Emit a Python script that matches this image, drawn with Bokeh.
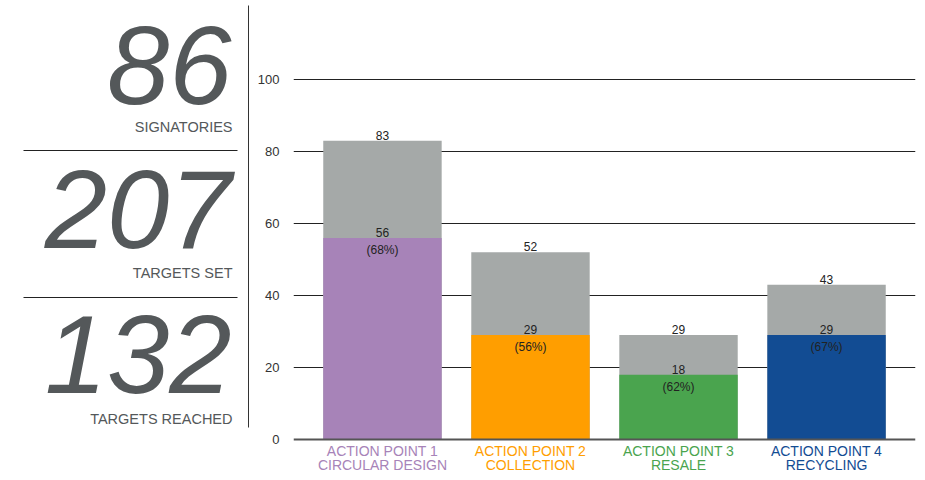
from bokeh.plotting import figure
from bokeh.layouts import row
from bokeh.models import Range1d, FixedTicker, Span
from bokeh.core.properties import value
from bokeh.embed import file_html
from bokeh.resources import INLINE

# ---- data ----
summary_values = ["86", "207", "132"]
summary_labels = ["SIGNATORIES", "TARGETS SET", "TARGETS REACHED"]

cat_line1 = ["ACTION POINT 1", "ACTION POINT 2", "ACTION POINT 3", "ACTION POINT 4"]
cat_line2 = ["CIRCULAR DESIGN", "COLLECTION", "RESALE", "RECYCLING"]
targets_set = [83, 52, 29, 43]
targets_reached = [56, 29, 18, 29]
reached_pct = ["(68%)", "(56%)", "(62%)", "(67%)"]
bar_colors = ["#a783b8", "#ff9e00", "#4aa44e", "#124c93"]
y_ticks = [0, 20, 40, 60, 80, 100]

FONT = "Liberation Sans"
DARK = "#54585a"

# ---- left summary panel (data coords = pixel coords of the panel) ----
H = 472
LW = 253
left = figure(width=LW, height=H, x_range=Range1d(0, LW), y_range=Range1d(H, 0),
              output_backend="svg", toolbar_location=None, min_border=0)
left.axis.visible = False
left.grid.visible = False
left.outline_line_color = None

num_y = [65, 209, 354]
lab_y = [126, 272, 418]
left.text(x=[231] * 3, y=num_y, text=summary_values, text_align="right",
          text_baseline="middle", text_font=value(FONT), text_font_style="italic",
          text_font_size="112px", text_color=DARK)
left.text(x=[232] * 3, y=lab_y, text=summary_labels, text_align="right",
          text_baseline="middle", text_font=value(FONT), text_font_size="14.5px",
          text_color=DARK)
left.segment(x0=[23, 23], y0=[150, 297], x1=[237, 237], y1=[150, 297],
             line_color="#222222", line_width=1)
left.segment(x0=[248], y0=[5], x1=[248], y1=[427], line_color="#333333", line_width=1)

# ---- bar chart ----
xs = list(range(len(targets_set)))
p = figure(width=664, height=H, x_range=Range1d(-0.601, 3.601),
           y_range=Range1d(-33 / 3.6, 439 / 3.6),
           output_backend="svg", toolbar_location=None,
           min_border_left=40, min_border_right=2, min_border_top=0, min_border_bottom=0)
p.outline_line_color = None
p.xaxis.visible = False
p.xgrid.visible = False
p.ygrid.ticker = FixedTicker(ticks=y_ticks[1:])
p.ygrid.grid_line_color = "#222222"
p.ygrid.grid_line_width = 1
p.yaxis.ticker = FixedTicker(ticks=y_ticks)
p.yaxis.axis_line_color = None
p.yaxis.major_tick_line_color = None
p.yaxis.minor_tick_line_color = None
p.yaxis.major_label_standoff = 8
p.yaxis.major_label_text_font = FONT
p.yaxis.major_label_text_font_size = "13px"
p.yaxis.major_label_text_color = "#333333"

p.vbar(x=xs, top=targets_set, bottom=0, width=0.8, fill_color="#a5a9a8", line_color=None)
p.vbar(x=xs, top=targets_reached, bottom=0, width=0.8, fill_color=bar_colors, line_color=None)
p.add_layout(Span(location=0, dimension="width", line_color="#555555", line_width=2))

p.text(x=xs, y=targets_set, text=[str(v) for v in targets_set], text_align="center",
       text_baseline="bottom", y_offset=-1, text_font=value(FONT), text_font_size="12px",
       text_color="#222222")
p.text(x=xs, y=targets_reached, text=[str(v) for v in targets_reached], text_align="center",
       text_baseline="bottom", y_offset=-1, text_font=value(FONT), text_font_size="12px",
       text_color="#222222")
p.text(x=xs, y=targets_reached, text=reached_pct, text_align="center",
       text_baseline="top", y_offset=5, text_font=value(FONT), text_font_size="12px",
       text_color="#222222")

p.text(x=xs, y=[(439 - 450) / 3.6] * 4, text=cat_line1, text_align="center",
       text_baseline="middle", text_font=value(FONT), text_font_size="14px",
       text_color=bar_colors)
p.text(x=xs, y=[(439 - 464) / 3.6] * 4, text=cat_line2, text_align="center",
       text_baseline="middle", text_font=value(FONT), text_font_size="14px",
       text_color=bar_colors)

layout = row(left, p)
open("out.html", "w").write(file_html(layout, INLINE))
